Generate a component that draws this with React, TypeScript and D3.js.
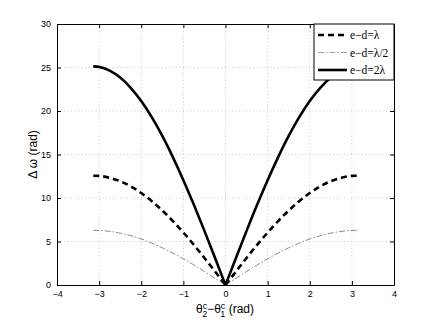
import React, { useEffect, useRef } from "react";
import * as d3 from "d3";

// phase difference samples (rad)
const theta = [-3.14, -3.0, -2.75, -2.5, -2.25, -2.0, -1.75, -1.5, -1.25, -1.0, -0.75, -0.5, -0.25, 0,
  0.25, 0.5, 0.75, 1.0, 1.25, 1.5, 1.75, 2.0, 2.25, 2.5, 2.75, 3.0, 3.14];

// Δω
const halfSide = [25.13, 25.07, 24.65, 23.85, 22.67, 21.15, 19.29, 17.13, 14.7, 12.05, 9.21, 6.22, 3.13, 0];
const wide = [...halfSide, ...halfSide.slice(0, 13).reverse()];
const mid = wide.map(v => +(v / 2).toFixed(2));
const narrow = wide.map(v => +(v / 4).toFixed(2));

const seriesNames = ["e\u2212d=\u03bb", "e\u2212d=\u03bb/2", "e\u2212d=2\u03bb"];
const xTicks = [-4, -3, -2, -1, 0, 1, 2, 3, 4];
const yTicks = [0, 5, 10, 15, 20, 25, 30];

export default function App() {
  const ref = useRef<SVGSVGElement>(null);

  useEffect(() => {
    const svg = d3.select(ref.current);
    svg.selectAll("*").remove();

    const left = 57, right = 394, top = 24, bottom = 285;
    const x = d3.scaleLinear().domain([-4, 4]).range([left, right]);
    const y = d3.scaleLinear().domain([0, 30]).range([bottom, top]);

    // grid
    const grid = svg.append("g").attr("stroke", "#aaa").attr("stroke-width", 0.6).attr("stroke-dasharray", "1,2.5");
    xTicks.slice(1, -1).forEach(t => {
      grid.append("line").attr("x1", x(t)).attr("x2", x(t)).attr("y1", top).attr("y2", bottom);
    });
    yTicks.slice(1, -1).forEach(t => {
      grid.append("line").attr("x1", left).attr("x2", right).attr("y1", y(t)).attr("y2", y(t));
    });

    // curves (split at the cusp so each side is smooth)
    const line = d3.line<[number, number]>().x(d => x(d[0])).y(d => y(d[1])).curve(d3.curveMonotoneX);
    const pathFor = (vals: number[]) => {
      const pts = vals.map((v, i) => [theta[i], v] as [number, number]);
      return line(pts.slice(0, 14))! + line(pts.slice(13))!;
    };
    svg.append("path").attr("d", pathFor(narrow)).attr("fill", "none")
      .attr("stroke", "#555").attr("stroke-width", 0.7).attr("stroke-dasharray", "6,2,1.5,2");
    svg.append("path").attr("d", pathFor(mid)).attr("fill", "none")
      .attr("stroke", "#000").attr("stroke-width", 2.6).attr("stroke-dasharray", "6,4");
    svg.append("path").attr("d", pathFor(wide)).attr("fill", "none")
      .attr("stroke", "#000").attr("stroke-width", 2.6);

    // axes box with inward ticks
    const fontTick = "'Liberation Sans', Arial, sans-serif";
    svg.append("g").attr("transform", `translate(0,${bottom})`)
      .call(d3.axisBottom(x).tickValues(xTicks).tickSizeInner(-4).tickSizeOuter(0).tickPadding(6).tickFormat(d => d3.format("")(d).replace("-", "\u2212")))
      .call(g => g.selectAll("text").attr("font-size", 9).attr("font-family", fontTick).attr("fill", "#000"));
    svg.append("g").attr("transform", `translate(0,${top})`)
      .call(d3.axisTop(x).tickValues(xTicks).tickSizeInner(-4).tickSizeOuter(0).tickFormat(() => ""));
    svg.append("g").attr("transform", `translate(${left},0)`)
      .call(d3.axisLeft(y).tickValues(yTicks).tickSizeInner(-4).tickSizeOuter(0).tickPadding(6))
      .call(g => g.selectAll("text").attr("font-size", 9).attr("font-family", fontTick).attr("fill", "#000"));
    svg.append("g").attr("transform", `translate(${right},0)`)
      .call(d3.axisRight(y).tickValues(yTicks).tickSizeInner(-4).tickSizeOuter(0).tickFormat(() => ""));
    svg.selectAll(".domain").attr("stroke", "#000");
    svg.selectAll(".tick line").attr("stroke", "#000");

    // legend
    const lg = svg.append("g");
    lg.append("rect").attr("x", 314).attr("y", top).attr("width", right - 314).attr("height", 56)
      .attr("fill", "#fff").attr("stroke", "#000").attr("stroke-width", 1);
    const styles = [
      { stroke: "#000", w: 2.6, dash: "6,4" },
      { stroke: "#777", w: 0.7, dash: "6,2,1.5,2" },
      { stroke: "#000", w: 2.6, dash: null as string | null },
    ];
    seriesNames.forEach((name, i) => {
      const ly = 35 + i * 17.5;
      const s = styles[i];
      lg.append("line").attr("x1", 318).attr("x2", 347).attr("y1", ly).attr("y2", ly)
        .attr("stroke", s.stroke).attr("stroke-width", s.w).attr("stroke-dasharray", s.dash);
      lg.append("text").attr("x", 350).attr("y", ly + 4).attr("font-size", 11.5)
        .attr("font-family", "Liberation Serif, serif").text(name);
    });

    // axis labels
    const fontLab = "'Liberation Sans', Arial, sans-serif";
    const xl = svg.append("text").attr("x", 225).attr("y", 313).attr("text-anchor", "middle")
      .attr("font-size", 12).attr("font-family", fontLab);
    xl.append("tspan").text("\u03b8");
    xl.append("tspan").attr("dy", -4.5).attr("font-size", 9).text("c");
    xl.append("tspan").attr("dx", -5).attr("dy", 8.5).attr("font-size", 9).text("2");
    xl.append("tspan").attr("dy", -4).text("\u2212\u03b8");
    xl.append("tspan").attr("dy", -4.5).attr("font-size", 9).text("c");
    xl.append("tspan").attr("dx", -5).attr("dy", 8.5).attr("font-size", 9).text("1");
    xl.append("tspan").attr("dy", -4).text(" (rad)");

    svg.append("text").attr("transform", `translate(37,${(top + bottom) / 2}) rotate(-90)`)
      .attr("text-anchor", "middle").attr("font-size", 12).attr("font-family", fontLab)
      .text("\u0394 \u03c9 (rad)");
  }, []);

  return (
    <svg ref={ref} width={436} height={325}
      style={{ position: "absolute", left: 0, top: 0, background: "#fff" }} />
  );
}
